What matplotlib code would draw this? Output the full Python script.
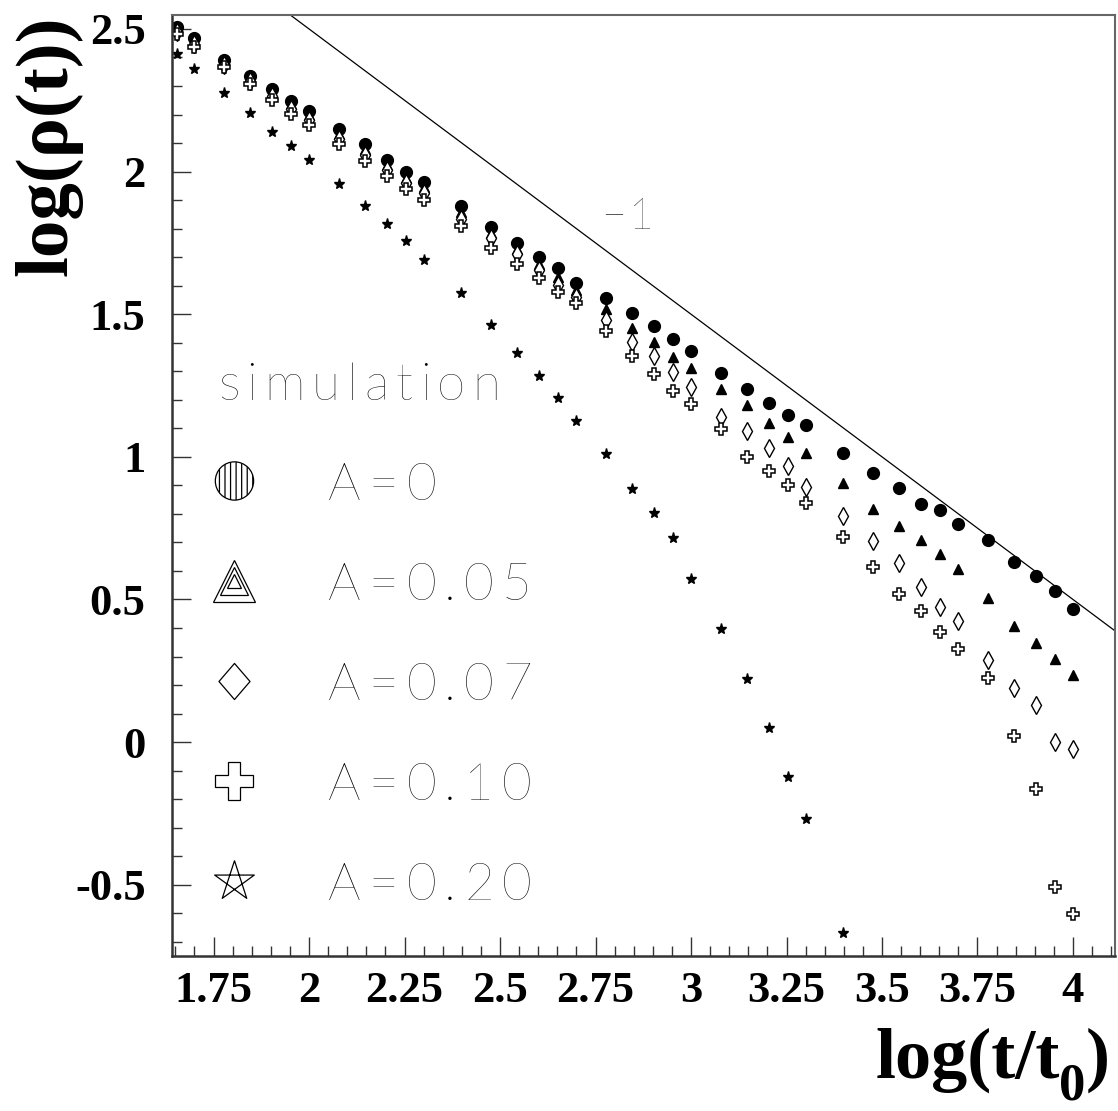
import numpy as np
import matplotlib.pyplot as plt
from matplotlib.path import Path

plt.rcParams['axes.unicode_minus'] = False
plt.rcParams['hatch.linewidth'] = 0.9

# log10(t/t0) for every sample
log_t = [1.653, 1.699, 1.778, 1.845, 1.903, 1.954, 2.000, 2.079, 2.146, 2.204,
         2.255, 2.301, 2.398, 2.477, 2.544, 2.602, 2.653, 2.699, 2.778, 2.845,
         2.903, 2.954, 3.000, 3.079, 3.146, 3.204, 3.255, 3.301, 3.398, 3.477,
         3.544, 3.602, 3.653, 3.699, 3.778, 3.845, 3.903, 3.954, 4.000]

# log(rho(t)) for each A
rho_A000 = [2.508, 2.467, 2.391, 2.336, 2.289, 2.249, 2.213, 2.148, 2.096, 2.040,
            1.997, 1.965, 1.880, 1.806, 1.750, 1.699, 1.661, 1.611, 1.556, 1.503,
            1.457, 1.412, 1.371, 1.293, 1.238, 1.188, 1.147, 1.110, 1.015, 0.945,
            0.892, 0.834, 0.813, 0.765, 0.709, 0.632, 0.584, 0.530, 0.467]
rho_A005 = [2.500, 2.458, 2.381, 2.324, 2.277, 2.236, 2.199, 2.132, 2.080, 2.022,
            1.979, 1.946, 1.860, 1.784, 1.728, 1.676, 1.632, 1.585, 1.518, 1.453,
            1.404, 1.351, 1.311, 1.237, 1.180, 1.118, 1.068, 1.013, 0.908, 0.817,
            0.756, 0.709, 0.660, 0.606, 0.505, 0.407, 0.347, 0.291, 0.236]
rho_A007 = [2.490, 2.448, 2.374, 2.316, 2.264, 2.218, 2.180, 2.114, 2.058, 2.006,
            1.960, 1.925, 1.835, 1.767, 1.711, 1.655, 1.603, 1.562, 1.478, 1.402,
            1.354, 1.299, 1.244, 1.139, 1.089, 1.030, 0.968, 0.896, 0.791, 0.705,
            0.627, 0.543, 0.475, 0.423, 0.288, 0.189, 0.131, 0.002, -0.024]
rho_A010 = [2.482, 2.438, 2.368, 2.307, 2.251, 2.202, 2.164, 2.097, 2.038, 1.986,
            1.939, 1.901, 1.810, 1.731, 1.676, 1.626, 1.579, 1.539, 1.441, 1.354,
            1.291, 1.232, 1.184, 1.098, 0.999, 0.951, 0.902, 0.838, 0.720, 0.615,
            0.520, 0.460, 0.385, 0.326, 0.224, 0.023, -0.165, -0.508, -0.603]
rho_A020 = [2.412, 2.360, 2.276, 2.205, 2.139, 2.090, 2.041, 1.957, 1.881, 1.818,
            1.757, 1.691, 1.574, 1.462, 1.365, 1.285, 1.206, 1.127, 1.010, 0.888,
            0.802, 0.717, 0.571, 0.396, 0.222, 0.051, -0.122, -0.269, -0.668]

legend_labels = ['A=0', 'A=0.05', 'A=0.07', 'A=0.10', 'A=0.20']

# slope -1 guide line: y = 4.5 - x
slope = -1.0
intercept = 4.5

xmin, xmax = 1.641, 4.11
ymin, ymax = -0.75, 2.549

W, H = 1118, 1111
thin_font = 'Lato'
thin_col = 'black'

fig = plt.figure(figsize=(W / 100, H / 100), dpi=100)
ax = fig.add_axes([0.1538, 0.1395, 0.8435, 0.847])
renderer = fig.canvas.get_renderer()


def spaced_text(x_px, base_px, s, size, track):
    # ROOT's hershey text is wide, so lay the letters out one by one
    x = x_px
    for ch in s:
        t = fig.text(x / W, 1 - base_px / H, ch, fontsize=size, family=thin_font,
                     fontweight='light', color=thin_col, ha='left', va='baseline')
        x += t.get_window_extent(renderer).width + track


x = np.array(log_t)
ax.plot(x, rho_A000, 'o', ms=8.5, mfc='k', mec='k', ls='none')
ax.plot(x, rho_A005, '^', ms=7.5, mfc='k', mec='k', ls='none')
ax.plot(x, rho_A007, 'd', ms=9, mfc='white', mec='k', mew=1.0, ls='none')
ax.plot(x, rho_A010, 'P', ms=8.5, mfc='white', mec='k', mew=1.1, ls='none')
ax.plot(x[:len(rho_A020)], rho_A020, '*', ms=8, mfc='k', mec='k', ls='none')

lx = np.array([xmin, xmax])
ax.plot(lx, slope * lx + intercept, color='k', lw=0.9)

ax.set_xlim(xmin, xmax)
ax.set_ylim(ymin, ymax)

# ROOT-like ticks: inside, left and bottom only
ax.set_xticks(np.arange(1.75, 4.01, 0.25))
ax.set_xticks(np.arange(1.65, 4.11, 0.05), minor=True)
ax.set_yticks(np.arange(-0.5, 2.51, 0.5))
ax.set_yticks(np.arange(-0.7, 2.55, 0.1), minor=True)
ax.xaxis.set_major_formatter(plt.FuncFormatter(lambda v, p: '%g' % round(v, 2)))
ax.yaxis.set_major_formatter(plt.FuncFormatter(lambda v, p: '%g' % round(v, 2)))
ax.tick_params(which='both', direction='in', top=False, right=False, color='#333333', width=1.0)
ax.tick_params(which='major', length=13.5)
ax.tick_params(which='minor', length=7)
ax.tick_params(axis='x', which='major', pad=11)
ax.tick_params(axis='y', which='major', pad=19)
for lab in ax.get_xticklabels() + ax.get_yticklabels():
    lab.set_family('Liberation Serif')
    lab.set_fontweight('bold')
    lab.set_fontsize(32)
for side in ['left', 'bottom']:
    ax.spines[side].set_linewidth(1.8)
    ax.spines[side].set_color('#333333')
for side in ['top', 'right']:
    ax.spines[side].set_linewidth(1.5)
    ax.spines[side].set_color('#666666')

# axis titles
fig.text(0.043, 0.986, 'log(\u03c1(t))', rotation=90, ha='center', va='top',
         family='Liberation Serif', fontweight='bold', fontsize=54)

# x title built from pieces so the subscript can be big like in ROOT
serif = dict(family='Liberation Serif', fontweight='bold')
xr = 1110
t_close = fig.text(xr / W, 1 - 1078 / H, ')', ha='right', va='baseline', fontsize=52, **serif)
xr -= t_close.get_window_extent(renderer).width + 1
t_sub = fig.text(xr / W, 1 - 1100 / H, '0', ha='right', va='baseline', fontsize=38, **serif)
xr -= t_sub.get_window_extent(renderer).width - 1
fig.text(xr / W, 1 - 1078 / H, 'log(t/t', ha='right', va='baseline', fontsize=52, **serif)

# slope label
spaced_text(601, 229, '\u22121', 31, 3)

# hand-drawn legend, ROOT style
star_verts = [(np.cos(np.pi / 2 + k * 4 * np.pi / 5), np.sin(np.pi / 2 + k * 4 * np.pi / 5)) for k in range(6)]
pentagram = Path(star_verts, [Path.MOVETO] + [Path.LINETO] * 5)
diamond = Path([(0, 1), (0.86, 0), (0, -1), (-0.86, 0), (0, 1)],
               [Path.MOVETO, Path.LINETO, Path.LINETO, Path.LINETO, Path.CLOSEPOLY])

mx = 0.0663
row_y = [0.5048, 0.3985, 0.2922, 0.186, 0.0797]
row_base = [500, 600, 700, 800, 900]

spaced_text(218, 400, 'simulation', 37, 7)

ax.scatter([mx], [row_y[0]], s=760, marker='o', facecolors='white', edgecolors='k',
           linewidths=0.9, hatch='|||', transform=ax.transAxes, zorder=3)
for ms in [30, 20, 10]:
    ax.plot([mx], [row_y[1]], '^', ms=ms, mfc='none', mec='k', mew=0.9, transform=ax.transAxes)
ax.plot([mx], [row_y[2]], marker=diamond, ms=26, mfc='none', mec='k', mew=0.9, transform=ax.transAxes)
ax.plot([mx], [row_y[3]], 'P', ms=28, mfc='none', mec='k', mew=0.9, transform=ax.transAxes)
ax.plot([mx], [row_y[4]], marker=pentagram, ms=30, mfc='none', mec='k', mew=0.9, transform=ax.transAxes)

for lab, yb in zip(legend_labels, row_base):
    spaced_text(328, yb, lab, 37, 8)

fig.savefig('out.png', dpi=100)
